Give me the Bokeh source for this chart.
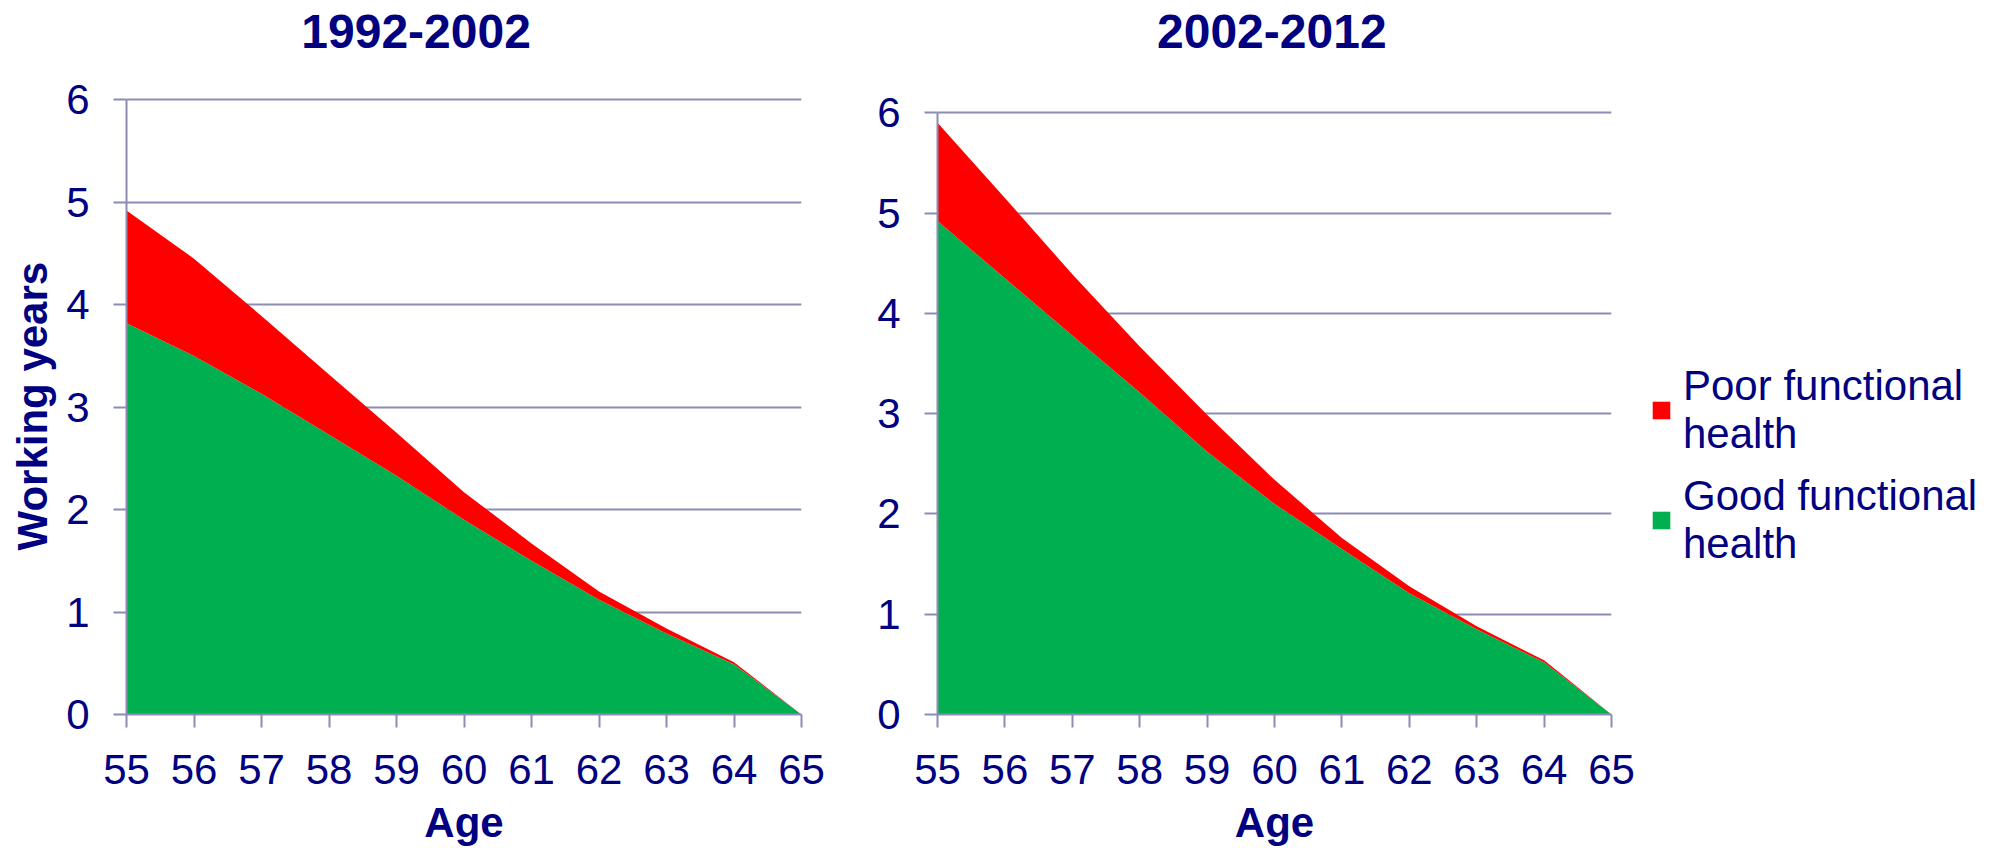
from bokeh.plotting import figure
from bokeh.layouts import row
from bokeh.models import Range1d, Legend, LegendItem, ColumnDataSource, Label, Title
from bokeh.embed import file_html
from bokeh.resources import INLINE

# ---- data ----
ages = [55, 56, 57, 58, 59, 60, 61, 62, 63, 64, 65]
good_1992 = [3.82, 3.50, 3.13, 2.73, 2.33, 1.90, 1.50, 1.12, 0.79, 0.49, 0.0]
poor_1992 = [1.10, 0.95, 0.76, 0.59, 0.42, 0.27, 0.17, 0.08, 0.05, 0.02, 0.0]
good_2002 = [4.92, 4.35, 3.78, 3.21, 2.62, 2.10, 1.65, 1.21, 0.85, 0.52, 0.0]
poor_2002 = [0.98, 0.80, 0.61, 0.46, 0.37, 0.24, 0.11, 0.07, 0.03, 0.02, 0.0]
y_ticks = [0, 1, 2, 3, 4, 5, 6]
panel_titles = ["1992-2002", "2002-2012"]
series_labels = ["Poor functional\nhealth", "Good functional\nhealth"]
x_label = "Age"
y_label = "Working years"

# ---- style ----
RED = "#FF0000"
GREEN = "#00B050"
NAVY = "#000080"
GRID = "#8C8CB4"
FONT = "Liberation Sans"
H = 848
BOTTOM = 129


def make_panel(good, poor, title, title_xy, width, y_top, ml, mr):
    src = ColumnDataSource(dict(age=ages, good=good, poor=poor))
    p = figure(width=width, height=H, output_backend="svg", toolbar_location=None,
               x_range=Range1d(ages[0], ages[-1]), y_range=Range1d(y_ticks[0], y_top),
               min_border_left=ml, min_border_right=mr, min_border_top=0, min_border_bottom=BOTTOM,
               background_fill_color="white", border_fill_color="white")
    p.varea_stack(["good", "poor"], x="age", source=src, color=[GREEN, RED])
    p.outline_line_color = None
    p.xgrid.visible = False
    p.ygrid.grid_line_color = GRID
    p.ygrid.grid_line_width = 2
    p.xaxis.ticker = ages
    p.yaxis.ticker = y_ticks
    p.yaxis.bounds = (y_ticks[0], y_ticks[-1])
    for ax in (p.xaxis, p.yaxis):
        ax.axis_line_color = GRID
        ax.axis_line_width = 2
        ax.major_tick_line_color = GRID
        ax.major_tick_line_width = 2
        ax.major_tick_in = 0
        ax.major_tick_out = 13
        ax.minor_tick_line_color = None
        ax.major_label_text_font = FONT
        ax.major_label_text_font_size = "42px"
        ax.major_label_text_color = NAVY
        ax.axis_label_text_font = FONT
        ax.axis_label_text_font_size = "42px"
        ax.axis_label_text_font_style = "bold"
        ax.axis_label_text_color = NAVY
    p.yaxis.major_label_standoff = 24
    p.xaxis.major_label_standoff = 27
    p.xaxis.axis_label = x_label
    p.xaxis.axis_label_standoff = 12
    p.add_layout(Label(x=title_xy[0], y=title_xy[1], text=title, text_align="center",
                       text_baseline="alphabetic", text_font=FONT, text_font_size="48px",
                       text_font_style="bold", text_color=NAVY))
    return p, src


p1, src1 = make_panel(good_1992, poor_1992, panel_titles[0], (59.29, 6.67), 860, 6.97, 126, 59)
p2, src2 = make_panel(good_2002, poor_2002, panel_titles[1], (59.96, 6.81), 781, 7.12, 77, 30)

# y-axis title of the left panel, placed along the 0-6 span of the axis
p1.add_layout(Title(text=y_label, align="left", offset=164, vertical_align="middle", standoff=14,
                    text_font=FONT, text_font_size="42px", text_font_style="bold",
                    text_color=NAVY), "left")

# legend panel: same series, its view window lies away from the data so only the key shows
p3 = figure(width=359, height=H, output_backend="svg", toolbar_location=None,
            x_range=Range1d(0, 1), y_range=Range1d(0, 1),
            min_border_left=0, min_border_right=0, min_border_top=0, min_border_bottom=BOTTOM,
            border_fill_color="white", background_fill_color="white")
p3.axis.visible = False
p3.grid.visible = False
p3.outline_line_color = None
keys = p3.varea_stack(["good", "poor"], x="age", source=src2, color=[GREEN, RED])

legend = Legend(items=[LegendItem(label=series_labels[0], renderers=[keys[1]]),
                       LegendItem(label=series_labels[1], renderers=[keys[0]])],
                location=(9, 146))
legend.border_line_color = None
legend.background_fill_alpha = 0
legend.label_text_font = FONT
legend.label_text_font_size = "42px"
legend.label_text_color = NAVY
legend.glyph_width = 22
legend.glyph_height = 22
legend.label_standoff = 11
legend.spacing = 14
legend.padding = 0
legend.margin = 0
p3.add_layout(legend, "center")

layout = row(p1, p2, p3)
open("out.html", "w").write(file_html(layout, INLINE))
